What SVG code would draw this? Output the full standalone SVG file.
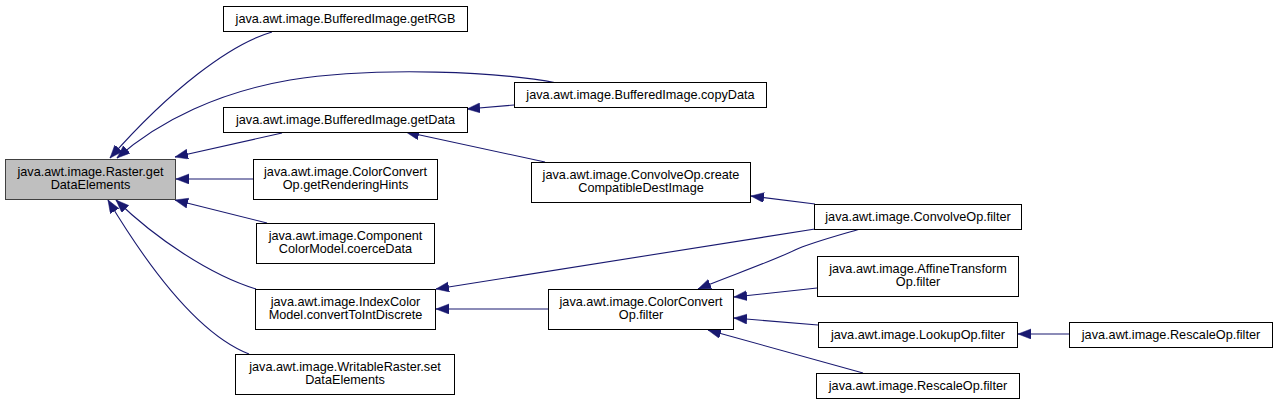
<svg xmlns="http://www.w3.org/2000/svg" width="1277" height="404" viewBox="0 0 1277 404">
<style>
.box{fill:#ffffff;stroke:#000000;stroke-width:1}
.root{fill:#bfbfbf;stroke:#404040;stroke-width:1}
text{font-family:"Liberation Sans",Arial,sans-serif;font-size:12.7px;fill:#000000;text-anchor:middle}
.edge{fill:none;stroke:#191970;stroke-width:1.1;marker-end:url(#arr)}
</style>
<defs>
<marker id="arr" markerUnits="userSpaceOnUse" markerWidth="14" markerHeight="11" refX="13" refY="5" orient="auto">
<path d="M0,0 L13,5 L0,10 z" fill="#191970" stroke="#191970" stroke-width="0.5"/>
</marker>
</defs>
<rect width="1277" height="404" fill="#ffffff"/>
<g id="edges">
<path class="edge" d="M272,32 C230,44 170,90 110,158"/>
<path class="edge" d="M557,83 C500,72 380,66 290,80 C220,92 160,120 117,158"/>
<path class="edge" d="M282,133 L175,157"/>
<path class="edge" d="M253,179 L176,179"/>
<path class="edge" d="M267,223 L175,200"/>
<path class="edge" d="M256,289 C210,275 155,238 116,200"/>
<path class="edge" d="M249,354 C200,335 150,270 108,200"/>
<path class="edge" d="M514,105 L467,109"/>
<path class="edge" d="M545,162 L406,132"/>
<path class="edge" d="M815,204 L751,196"/>
<path class="edge" d="M815,229 L436,289"/>
<path class="edge" d="M860,229 C840,235 810,243 795,250 C770,262 735,274 698,289"/>
<path class="edge" d="M817,288 L734,297"/>
<path class="edge" d="M818,325 L734,318"/>
<path class="edge" d="M863,373 L708,330"/>
<path class="edge" d="M548,309 L436,309"/>
<path class="edge" d="M1069,334 L1018,334"/>
</g>
<g id="n0"><rect class="root" x="5.5" y="159.5" width="170" height="40"/><text x="90.5" y="176">java.awt.image.Raster.get</text><text x="90.5" y="189">DataElements</text></g>
<g id="n1"><rect class="box" x="223.5" y="6.5" width="244" height="25"/><text x="345.5" y="22.5">java.awt.image.BufferedImage.getRGB</text></g>
<g id="n2"><rect class="box" x="514.5" y="82.5" width="252" height="25"/><text x="640.5" y="98.5">java.awt.image.BufferedImage.copyData</text></g>
<g id="n3"><rect class="box" x="223.5" y="107.5" width="244" height="25"/><text x="345.5" y="123.5">java.awt.image.BufferedImage.getData</text></g>
<g id="n4"><rect class="box" x="253.5" y="159.5" width="184" height="40"/><text x="345.5" y="176">java.awt.image.ColorConvert</text><text x="345.5" y="189">Op.getRenderingHints</text></g>
<g id="n5"><rect class="box" x="256.5" y="223.5" width="178" height="40"/><text x="345.5" y="240">java.awt.image.Component</text><text x="345.5" y="253">ColorModel.coerceData</text></g>
<g id="n6"><rect class="box" x="255.5" y="289.5" width="180" height="40"/><text x="345.5" y="306">java.awt.image.IndexColor</text><text x="345.5" y="319">Model.convertToIntDiscrete</text></g>
<g id="n7"><rect class="box" x="235.5" y="354.5" width="219" height="40"/><text x="345" y="371">java.awt.image.WritableRaster.set</text><text x="345" y="384">DataElements</text></g>
<g id="n8"><rect class="box" x="531.5" y="162.5" width="219" height="40"/><text x="641" y="179">java.awt.image.ConvolveOp.create</text><text x="641" y="192">CompatibleDestImage</text></g>
<g id="n9"><rect class="box" x="548.5" y="289.5" width="185" height="40"/><text x="641" y="306">java.awt.image.ColorConvert</text><text x="641" y="319">Op.filter</text></g>
<g id="n10"><rect class="box" x="814.5" y="204.5" width="207" height="25"/><text x="918" y="220.5">java.awt.image.ConvolveOp.filter</text></g>
<g id="n11"><rect class="box" x="817.5" y="256.5" width="201" height="40"/><text x="918" y="273">java.awt.image.AffineTransform</text><text x="918" y="286">Op.filter</text></g>
<g id="n12"><rect class="box" x="818.5" y="322.5" width="199" height="25"/><text x="918" y="338.5">java.awt.image.LookupOp.filter</text></g>
<g id="n13"><rect class="box" x="816.5" y="373.5" width="203" height="25"/><text x="918" y="389.5">java.awt.image.RescaleOp.filter</text></g>
<g id="n14"><rect class="box" x="1069.5" y="322.5" width="203" height="25"/><text x="1171" y="338.5">java.awt.image.RescaleOp.filter</text></g>
</svg>
